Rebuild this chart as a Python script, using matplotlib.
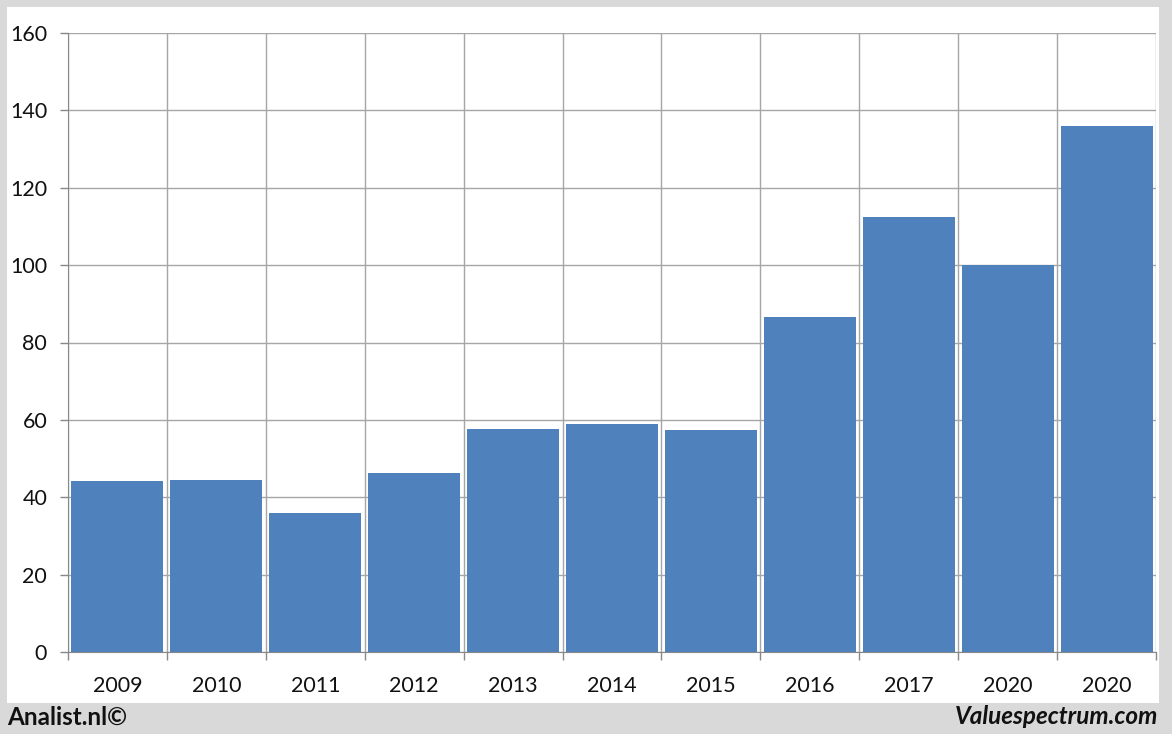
import matplotlib
matplotlib.use("Agg")
import matplotlib.pyplot as plt
from matplotlib.patches import Rectangle

categories = ["2009", "2010", "2011", "2012", "2013", "2014", "2015", "2016", "2017", "2020", "2020"]
values = [44.2, 44.5, 35.9, 46.3, 57.6, 58.9, 57.4, 86.6, 112.4, 100.0, 136.0]
y_ticks = [0, 20, 40, 60, 80, 100, 120, 140, 160]

W, H = 1172, 734
fig = plt.figure(figsize=(W / 100, H / 100), dpi=100, facecolor="#d9d9d9")
fig.patches.append(Rectangle((7 / W, 1 - 703 / H), (1159 - 7) / W, (703 - 7) / H,
                             transform=fig.transFigure, facecolor="white",
                             edgecolor="none", zorder=-10))

ax = fig.add_axes([68 / W, 1 - 652 / H, (1156 - 68) / W, (652 - 33) / H])
ax.set_facecolor("white")
ax.set_zorder(1)

n = len(categories)
x = list(range(n))
ax.bar(x, values, width=0.93, color="#4f81bd", edgecolor="none", zorder=3)

ax.set_xlim(-0.5, n - 0.5)
ax.set_ylim(0, 160)
ax.set_yticks(y_ticks)
ax.set_yticklabels([str(v) for v in y_ticks], fontsize=15.5, family="Lato", color="#111111")

grid_c = "#a6a6a6"
for v in y_ticks:
    ax.axhline(v, color=grid_c, lw=1.0, zorder=1)
for b in range(n + 1):
    ax.axvline(b - 0.5, color=grid_c, lw=1.0, zorder=1)

ax.set_xticks([b - 0.5 for b in range(n + 1)], minor=False)
ax.set_xticklabels([""] * (n + 1))
ax.set_xticks(x, minor=True)
ax.set_xticklabels(categories, minor=True, fontsize=15.5, family="Lato", color="#111111")
ax.tick_params(axis="x", which="minor", length=0, pad=17)
ax.tick_params(axis="x", which="major", length=6, color="#888888", width=1)
ax.tick_params(axis="y", length=6, color="#888888", width=1, pad=9)

for s in ["top", "right"]:
    ax.spines[s].set_visible(False)
ax.spines["left"].set_color("#888888")
ax.spines["bottom"].set_color("#888888")
ax.spines["left"].set_zorder(4)
ax.spines["bottom"].set_zorder(4)

fig.text(7 / W, 1 - 717 / H, "Analist.nl©", fontsize=17.5, fontweight="bold",
         family="Lato", ha="left", va="center", color="#111111")
fig.text(1158 / W, 1 - 717 / H, "Valuespectrum.com", fontsize=17.5, fontweight="bold",
         style="italic", family="Lato", ha="right", va="center", color="#111111")

fig.savefig("out.png", dpi=100, facecolor=fig.get_facecolor())
